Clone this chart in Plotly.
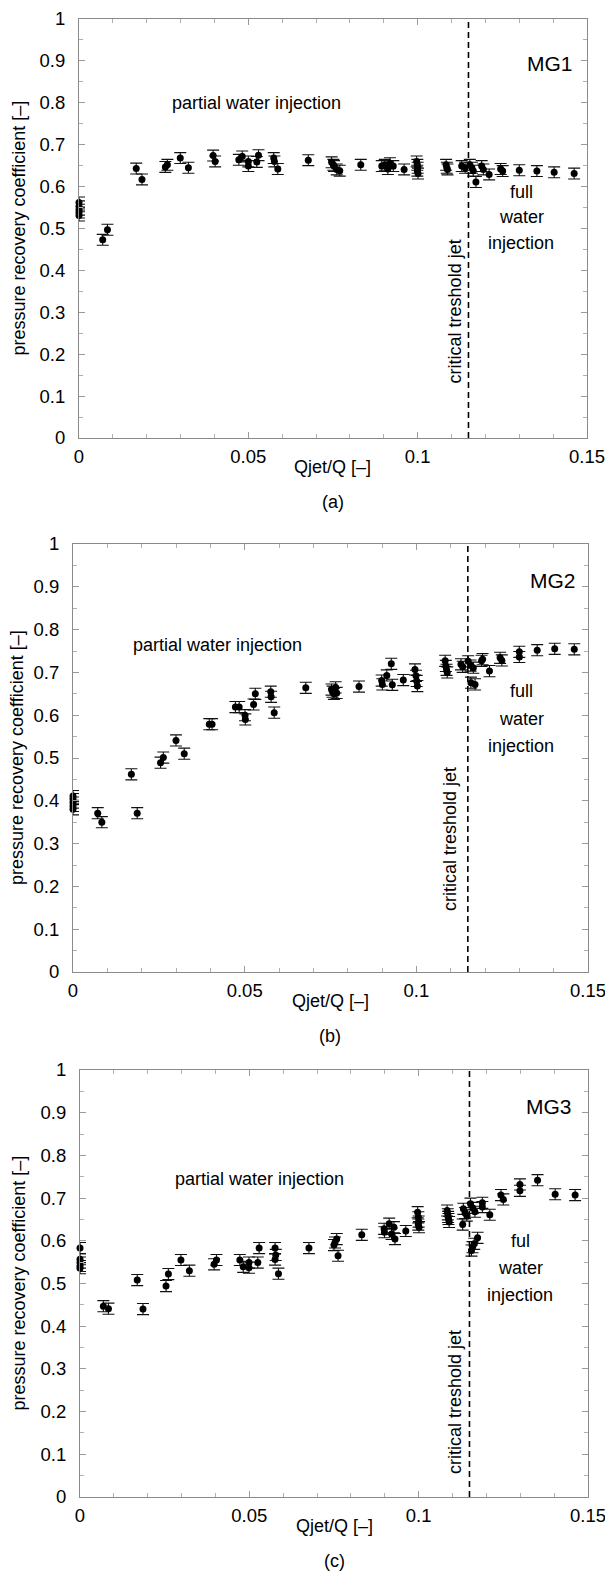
import plotly.graph_objects as go

# Target picture is 613x1580; the page body keeps an 8px margin, so the
# figure itself is 16px smaller and every target pixel is shifted by 8.
PAGE_W, PAGE_H = 613, 1580
OFF = 8
W, H = PAGE_W - 2 * OFF, PAGE_H - 2 * OFF

# ---------------- data ----------------
q_mg1 = [0, 0, 0, 0, 0, 0.0070, 0.0084, 0.0169, 0.0186, 0.0255, 0.0261, 0.0299, 0.0323,
         0.0396, 0.0402, 0.0472, 0.0482, 0.0500, 0.0500, 0.0525, 0.0530, 0.0575, 0.0577,
         0.0587, 0.0677, 0.0746, 0.0751, 0.0753, 0.0761, 0.0770, 0.0832, 0.0894, 0.0903,
         0.0912, 0.0918, 0.0928, 0.0960, 0.0997, 0.0999, 0.1000, 0.0999, 0.1001, 0.1084,
         0.1086, 0.1088, 0.1130, 0.1140, 0.1154, 0.1160, 0.1164, 0.1172, 0.1189, 0.1194,
         0.1211, 0.1245, 0.1251, 0.1300, 0.1352, 0.1403, 0.1462]
cp_mg1 = [0.562, 0.553, 0.545, 0.538, 0.531, 0.473, 0.497, 0.643, 0.617, 0.647, 0.652, 0.668, 0.645,
          0.674, 0.660, 0.664, 0.672, 0.660, 0.649, 0.659, 0.675, 0.668, 0.660,
          0.642, 0.663, 0.658, 0.652, 0.649, 0.641, 0.638, 0.652, 0.649, 0.652,
          0.642, 0.656, 0.649, 0.641, 0.660, 0.652, 0.645, 0.638, 0.631, 0.652,
          0.645, 0.641, 0.649, 0.645, 0.652, 0.645, 0.638, 0.611, 0.649, 0.641,
          0.629, 0.642, 0.637, 0.639, 0.637, 0.634, 0.631]

q_mg2 = [0, 0, 0, 0, 0, 0.0072, 0.0084, 0.0170, 0.0187, 0.0255, 0.0263, 0.0300, 0.0324,
         0.0397, 0.0405, 0.0473, 0.0484, 0.0501, 0.0502, 0.0526, 0.0531, 0.0576, 0.0577,
         0.0586, 0.0678, 0.0753, 0.0756, 0.0760, 0.0765, 0.0768, 0.0833, 0.0899, 0.0901,
         0.0914, 0.0927, 0.0930, 0.0962, 0.0996, 0.0999, 0.1001, 0.1003, 0.1084, 0.1086,
         0.1088, 0.1090, 0.1130, 0.1135, 0.1151, 0.1158, 0.1166, 0.1159, 0.1171, 0.1190,
         0.1193, 0.1213, 0.1244, 0.1249, 0.1300, 0.1300, 0.1352, 0.1403, 0.1460]
cp_mg2 = [0.411, 0.404, 0.396, 0.388, 0.380, 0.371, 0.350, 0.462, 0.371, 0.489, 0.501, 0.541, 0.510,
          0.579, 0.579, 0.619, 0.619, 0.600, 0.590, 0.625, 0.650, 0.655, 0.643,
          0.606, 0.664, 0.660, 0.655, 0.650, 0.665, 0.652, 0.667, 0.681, 0.672,
          0.693, 0.720, 0.671, 0.682, 0.707, 0.692, 0.680, 0.668, 0.727, 0.715,
          0.706, 0.700, 0.719, 0.713, 0.726, 0.716, 0.711, 0.676, 0.672, 0.727,
          0.731, 0.703, 0.734, 0.728, 0.748, 0.736, 0.752, 0.755, 0.754]

q_mg3 = [0, 0, 0, 0, 0, 0.0069, 0.0084, 0.0169, 0.0186, 0.0254, 0.0261, 0.0298, 0.0323,
         0.0396, 0.0403, 0.0472, 0.0482, 0.0499, 0.0499, 0.0525, 0.0529, 0.0576, 0.0578,
         0.0576, 0.0586, 0.0676, 0.0750, 0.0753, 0.0758, 0.0762, 0.0832, 0.0898, 0.0899,
         0.0913, 0.0920, 0.0927, 0.0930, 0.0962, 0.0997, 0.0999, 0.1000, 0.0999, 0.1001,
         0.1084, 0.1086, 0.1087, 0.1088, 0.1090, 0.1130, 0.1132, 0.1137, 0.1142, 0.1153,
         0.1160, 0.1166, 0.1156, 0.1159, 0.1164, 0.1174, 0.1188, 0.1188, 0.1210, 0.1243,
         0.1250, 0.1299, 0.1299, 0.1351, 0.1403, 0.1462]
cp_mg3 = [0.583, 0.557, 0.549, 0.541, 0.536, 0.447, 0.441, 0.508, 0.440, 0.494, 0.522, 0.555, 0.530,
          0.545, 0.555, 0.555, 0.539, 0.549, 0.537, 0.549, 0.583, 0.583, 0.567,
          0.556, 0.523, 0.583, 0.590, 0.596, 0.604, 0.565, 0.614, 0.628, 0.620,
          0.640, 0.616, 0.632, 0.604, 0.623, 0.667, 0.655, 0.645, 0.638, 0.632,
          0.671, 0.662, 0.656, 0.651, 0.644, 0.638, 0.675, 0.665, 0.659, 0.687,
          0.677, 0.668, 0.577, 0.585, 0.593, 0.607, 0.689, 0.679, 0.661, 0.707,
          0.697, 0.732, 0.717, 0.742, 0.709, 0.707]

ERR = 0.013              # half-length of the error bars
CRITICAL_Q = 0.115       # critical threshold jet

x_tickvals = [0, 0.05, 0.1, 0.15]
x_ticktext = ["0", "0.05", "0.1", "0.15"]
y_tickvals = [0, 0.1, 0.2, 0.3, 0.4, 0.5, 0.6, 0.7, 0.8, 0.9, 1.0]
y_ticktext = ["0", "0.1", "0.2", "0.3", "0.4", "0.5", "0.6", "0.7", "0.8", "0.9", "1"]


def px_x(X):
    return (X - OFF) / W


def px_y(Y):
    return 1 - (Y - OFF) / H


# ---------------- layout (pixel boxes of the three panels, page coords) ----------------
FONT = "Liberation Sans, Arial, Helvetica, sans-serif"
panels = [
    dict(q=q_mg1, cp=cp_mg1, left=79, right=587, top=19, bottom=438, label="MG1", tag="(a)",
         mg=(0.139, 0.895), partial=(0.0525, 0.80), full=["full", "water", "injection"],
         full_xy=(0.1306, [0.588, 0.527, 0.466]), crit=(0.1113, 0.302), ytitle_x=18),
    dict(q=q_mg2, cp=cp_mg2, left=73, right=588, top=544, bottom=972, label="MG2", tag="(b)",
         mg=(0.1398, 0.915), partial=(0.042, 0.763), full=["full", "water", "injection"],
         full_xy=(0.1306, [0.656, 0.591, 0.527]), crit=(0.1100, 0.310), ytitle_x=17),
    dict(q=q_mg3, cp=cp_mg3, left=80, right=588, top=1070, bottom=1497, label="MG3", tag="(c)",
         mg=(0.1385, 0.915), partial=(0.053, 0.745), full=["ful", "water", "injection"],
         full_xy=(0.1300, [0.600, 0.537, 0.474]), crit=(0.1108, 0.223), ytitle_x=18),
]

fig = go.Figure()
annotations = []
shapes = []
layout_axes = {}

for i, p in enumerate(panels, start=1):
    sx = "" if i == 1 else str(i)
    xref, yref = "x" + sx, "y" + sx
    fig.add_trace(go.Scatter(
        x=p["q"], y=p["cp"], mode="markers", xaxis=xref, yaxis=yref,
        marker=dict(color="black", size=7),
        error_y=dict(type="constant", value=ERR, color="#111111", thickness=1.1, width=6),
        cliponaxis=False, showlegend=False, hoverinfo="skip"))

    common = dict(showgrid=False, zeroline=False, showline=True, linecolor="#8a8a8a",
                  linewidth=1.2, ticks="inside", ticklen=6, tickwidth=1, tickcolor="#9a9a9a",
                  mirror="ticks", automargin=False, ticklabeloverflow="allow",
                  tickfont=dict(family=FONT, size=18.5, color="black"))
    layout_axes["xaxis" + sx] = dict(
        common, domain=[px_x(p["left"]), px_x(p["right"])], range=[0, 0.15], anchor=yref,
        tickmode="array", tickvals=x_tickvals, ticktext=x_ticktext, ticklabelstandoff=2,
        minor=dict(tickmode="linear", tick0=0, dtick=0.01, ticks="inside", ticklen=4,
                   tickcolor="#b0b0b0", showgrid=False))
    layout_axes["yaxis" + sx] = dict(
        common, domain=[px_y(p["bottom"]), px_y(p["top"])], range=[0, 1], anchor=xref,
        tickmode="array", tickvals=y_tickvals, ticktext=y_ticktext, ticklabelstandoff=9,
        minor=dict(tickmode="linear", tick0=0, dtick=0.05, ticks="inside", ticklen=4,
                   tickcolor="#b0b0b0", showgrid=False))

    shapes.append(dict(type="line", xref=xref, yref=yref, x0=CRITICAL_Q, x1=CRITICAL_Q,
                       y0=0, y1=1, line=dict(color="black", width=1.6, dash="6px,4px")))

    tf = dict(family=FONT, size=18, color="black")
    annotations.append(dict(xref=xref, yref=yref, x=p["mg"][0], y=p["mg"][1], text=p["label"],
                            showarrow=False, xanchor="center", yanchor="middle",
                            font=dict(family=FONT, size=21, color="black")))
    annotations.append(dict(xref=xref, yref=yref, x=p["partial"][0], y=p["partial"][1],
                            text="partial water injection", showarrow=False,
                            xanchor="center", yanchor="middle", font=tf))
    for word, yy in zip(p["full"], p["full_xy"][1]):
        annotations.append(dict(xref=xref, yref=yref, x=p["full_xy"][0], y=yy, text=word,
                                showarrow=False, xanchor="center", yanchor="middle", font=tf))
    annotations.append(dict(xref=xref, yref=yref, x=p["crit"][0], y=p["crit"][1],
                            text="critical treshold jet", textangle=-90, showarrow=False,
                            xanchor="center", yanchor="middle", font=tf))

    cx = px_x((p["left"] + p["right"]) / 2)
    annotations.append(dict(xref="paper", yref="paper", x=cx, y=px_y(p["bottom"] + 29),
                            text="Qjet/Q [–]", showarrow=False,
                            xanchor="center", yanchor="middle", font=tf))
    annotations.append(dict(xref="paper", yref="paper", x=cx, y=px_y(p["bottom"] + 64),
                            text=p["tag"], showarrow=False,
                            xanchor="center", yanchor="middle", font=tf))
    cy = px_y((p["top"] + p["bottom"]) / 2)
    annotations.append(dict(xref="paper", yref="paper", x=px_x(p["ytitle_x"]), y=cy,
                            text="pressure recovery coefficient [–]", textangle=-90,
                            showarrow=False, xanchor="center", yanchor="middle", font=tf))

fig.update_layout(
    width=W, height=H, margin=dict(l=0, r=0, t=0, b=0),
    paper_bgcolor="white", plot_bgcolor="white",
    annotations=annotations, shapes=shapes, **layout_axes)

fig.write_html("out.html")
